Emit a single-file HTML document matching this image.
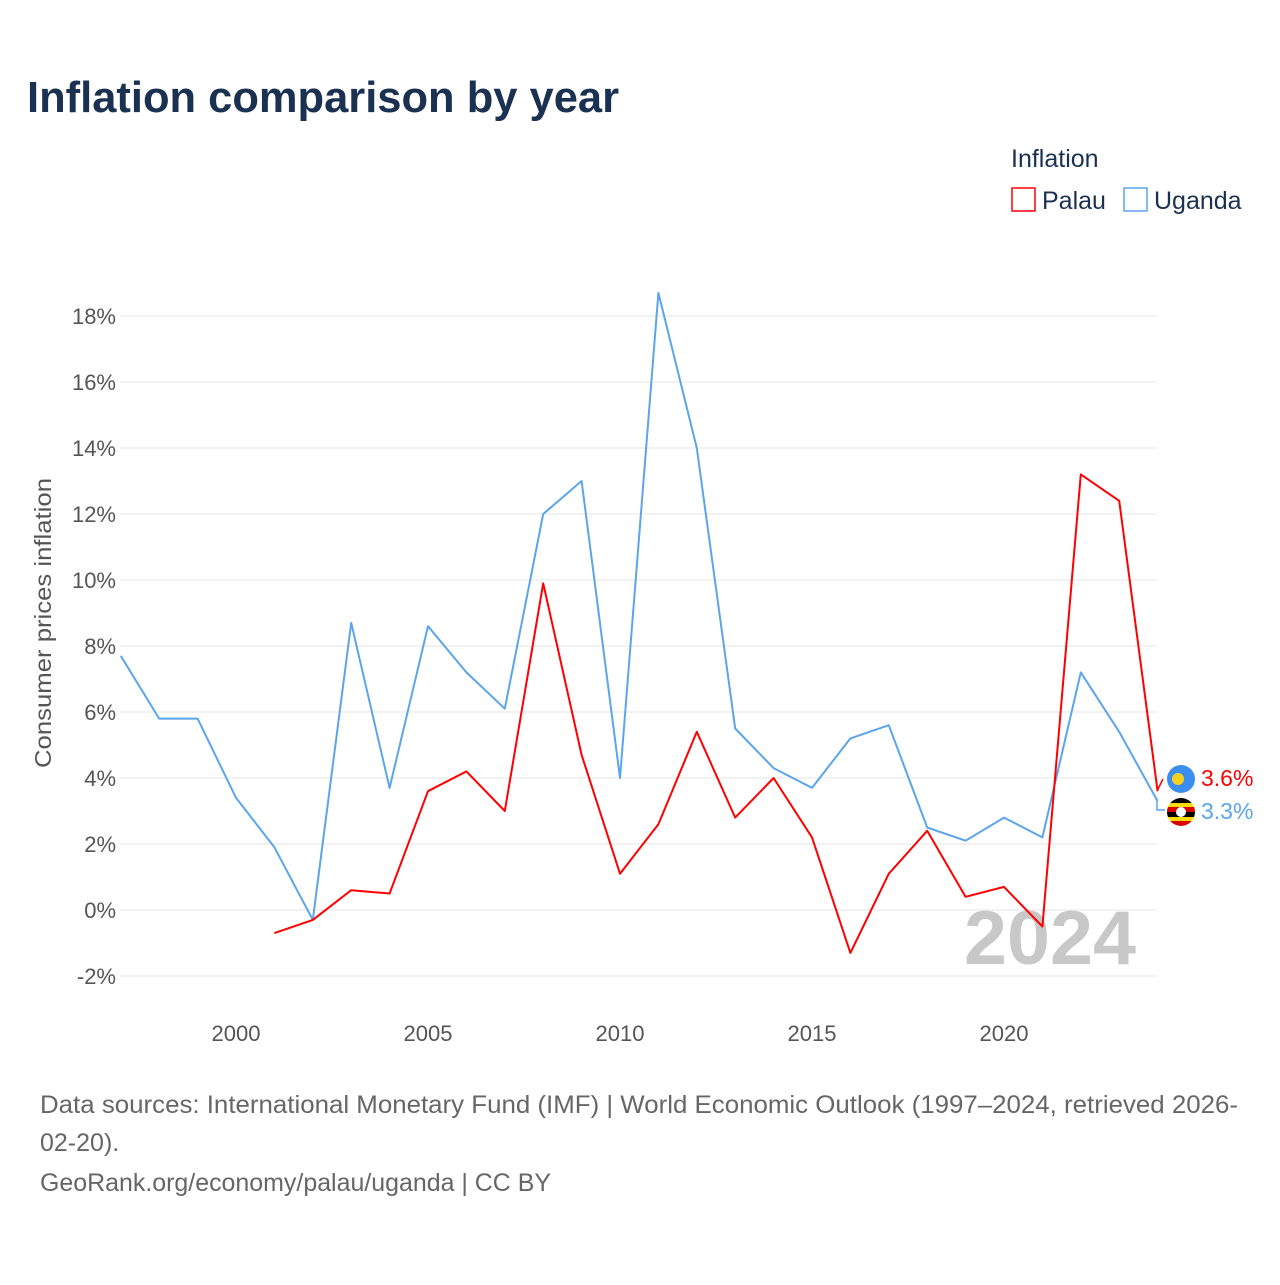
<!DOCTYPE html>
<html><head><meta charset="utf-8"><style>
body{margin:0;background:#fff;font-family:"Liberation Sans",sans-serif;}
svg text{font-family:"Liberation Sans",sans-serif;}
</style></head><body>
<svg width="1280" height="1280" xmlns="http://www.w3.org/2000/svg">
<text x="27" y="112" font-size="44" font-weight="bold" fill="#1b3152" textLength="592" lengthAdjust="spacingAndGlyphs">Inflation comparison by year</text>
<g>
<text x="1011" y="167" font-size="25" fill="#1b3152">Inflation</text>
<g><rect x="1012" y="188" width="23" height="23" fill="none" stroke="#f00" stroke-width="1.5"/><text x="1042" y="209" font-size="25" fill="#1b3152">Palau</text></g>
<g><rect x="1124" y="188" width="23" height="23" fill="none" stroke="#5aa5ec" stroke-width="1.5"/><text x="1154" y="209" font-size="25" fill="#1b3152">Uganda</text></g>
</g>
<g id="grid"></g>
<g id="yt"></g>
<g id="xt"></g>
<text transform="translate(51,623) rotate(-90)" text-anchor="middle" font-size="23" fill="#555" textLength="290" lengthAdjust="spacingAndGlyphs">Consumer prices inflation</text>
<text x="964" y="964" font-size="76" font-weight="bold" fill="#c8c8c8" textLength="172" lengthAdjust="spacingAndGlyphs">2024</text>
<g id="series"></g>
<g>
<path d="M1157,791 L1163,779" stroke="#f00" stroke-width="1.5" fill="none"/>
<path d="M1157,801 L1157,810 L1165,810" stroke="#5aa5ec" stroke-width="1.5" fill="none"/>
<circle cx="1181" cy="779" r="14" fill="#3a8ef0"/><circle cx="1178" cy="779" r="6" fill="#f5d020"/>
<g><clipPath id="c"><circle cx="1181" cy="812" r="14"/></clipPath><g clip-path="url(#c)">
<rect x="1167" y="798" width="28" height="5" fill="#000"/><rect x="1167" y="803" width="28" height="4" fill="#fcdc04"/><rect x="1167" y="807" width="28" height="5" fill="#d90000"/><rect x="1167" y="812" width="28" height="5" fill="#000"/><rect x="1167" y="817" width="28" height="4" fill="#fcdc04"/><rect x="1167" y="821" width="28" height="5" fill="#d90000"/><circle cx="1181" cy="812" r="5" fill="#fff"/></g></g>
<text x="1201" y="786" font-size="23" fill="#f00">3.6%</text>
<text x="1201" y="819" font-size="23" fill="#5aa5ec">3.3%</text>
</g>
<text x="40" y="1113" font-size="25" fill="#666" textLength="1198" lengthAdjust="spacingAndGlyphs">Data sources: International Monetary Fund (IMF) | World Economic Outlook (1997–2024, retrieved 2026-</text>
<text x="40" y="1151" font-size="25" fill="#666">02-20).</text>
<text x="40" y="1191" font-size="25" fill="#666" textLength="511" lengthAdjust="spacingAndGlyphs">GeoRank.org/economy/palau/uganda | CC BY</text>
</svg>
<script>
const years=[1997,1998,1999,2000,2001,2002,2003,2004,2005,2006,2007,2008,2009,2010,2011,2012,2013,2014,2015,2016,2017,2018,2019,2020,2021,2022,2023,2024];
const uganda=[7.7,5.8,5.8,3.4,1.9,-0.3,8.7,3.7,8.6,7.2,6.1,12.0,13.0,4.0,18.7,14.0,5.5,4.3,3.7,5.2,5.6,2.5,2.1,2.8,2.2,7.2,5.4,3.3];
const palau=[null,null,null,null,-0.7,-0.3,0.6,0.5,3.6,4.2,3.0,9.9,4.7,1.1,2.6,5.4,2.8,4.0,2.2,-1.3,1.1,2.4,0.4,0.7,-0.5,13.2,12.4,3.6];
const yTicks=[-2,0,2,4,6,8,10,12,14,16,18];
const xTicks=[2000,2005,2010,2015,2020];
const NS="http://www.w3.org/2000/svg";
const X=y=>120.8+(y-1997)*38.4, Y=v=>910-33*v;
function el(t,a,p){const e=document.createElementNS(NS,t);for(const k in a)e.setAttribute(k,a[k]);document.getElementById(p).appendChild(e);return e;}
yTicks.forEach(v=>{
const g=el('line',{x1:120,x2:1157,y1:Y(v),y2:Y(v),stroke:'#e6e6e6','stroke-width':1},'grid');


const t=el('text',{x:116,y:Y(v)+8,'text-anchor':'end','font-size':22,fill:'#555'},'yt');
t.textContent=v+'%';


});
xTicks.forEach(v=>{
const t=el('text',{x:X(v),y:1041,'text-anchor':'middle','font-size':22,fill:'#555'},'xt');
t.textContent=v;


});
function line(vals,color,name){
let d='';vals.forEach((v,i)=>{if(v===null)return;d+=(d?'L':'M')+X(years[i])+','+Y(v);});
const p=el('path',{d:d,fill:'none',stroke:color,'stroke-width':2,'stroke-linejoin':'round'},'series');


}
line(uganda,'#5aa5ec','uganda-line');
line(palau,'#f00','palau-line');
</script>
</body></html>
